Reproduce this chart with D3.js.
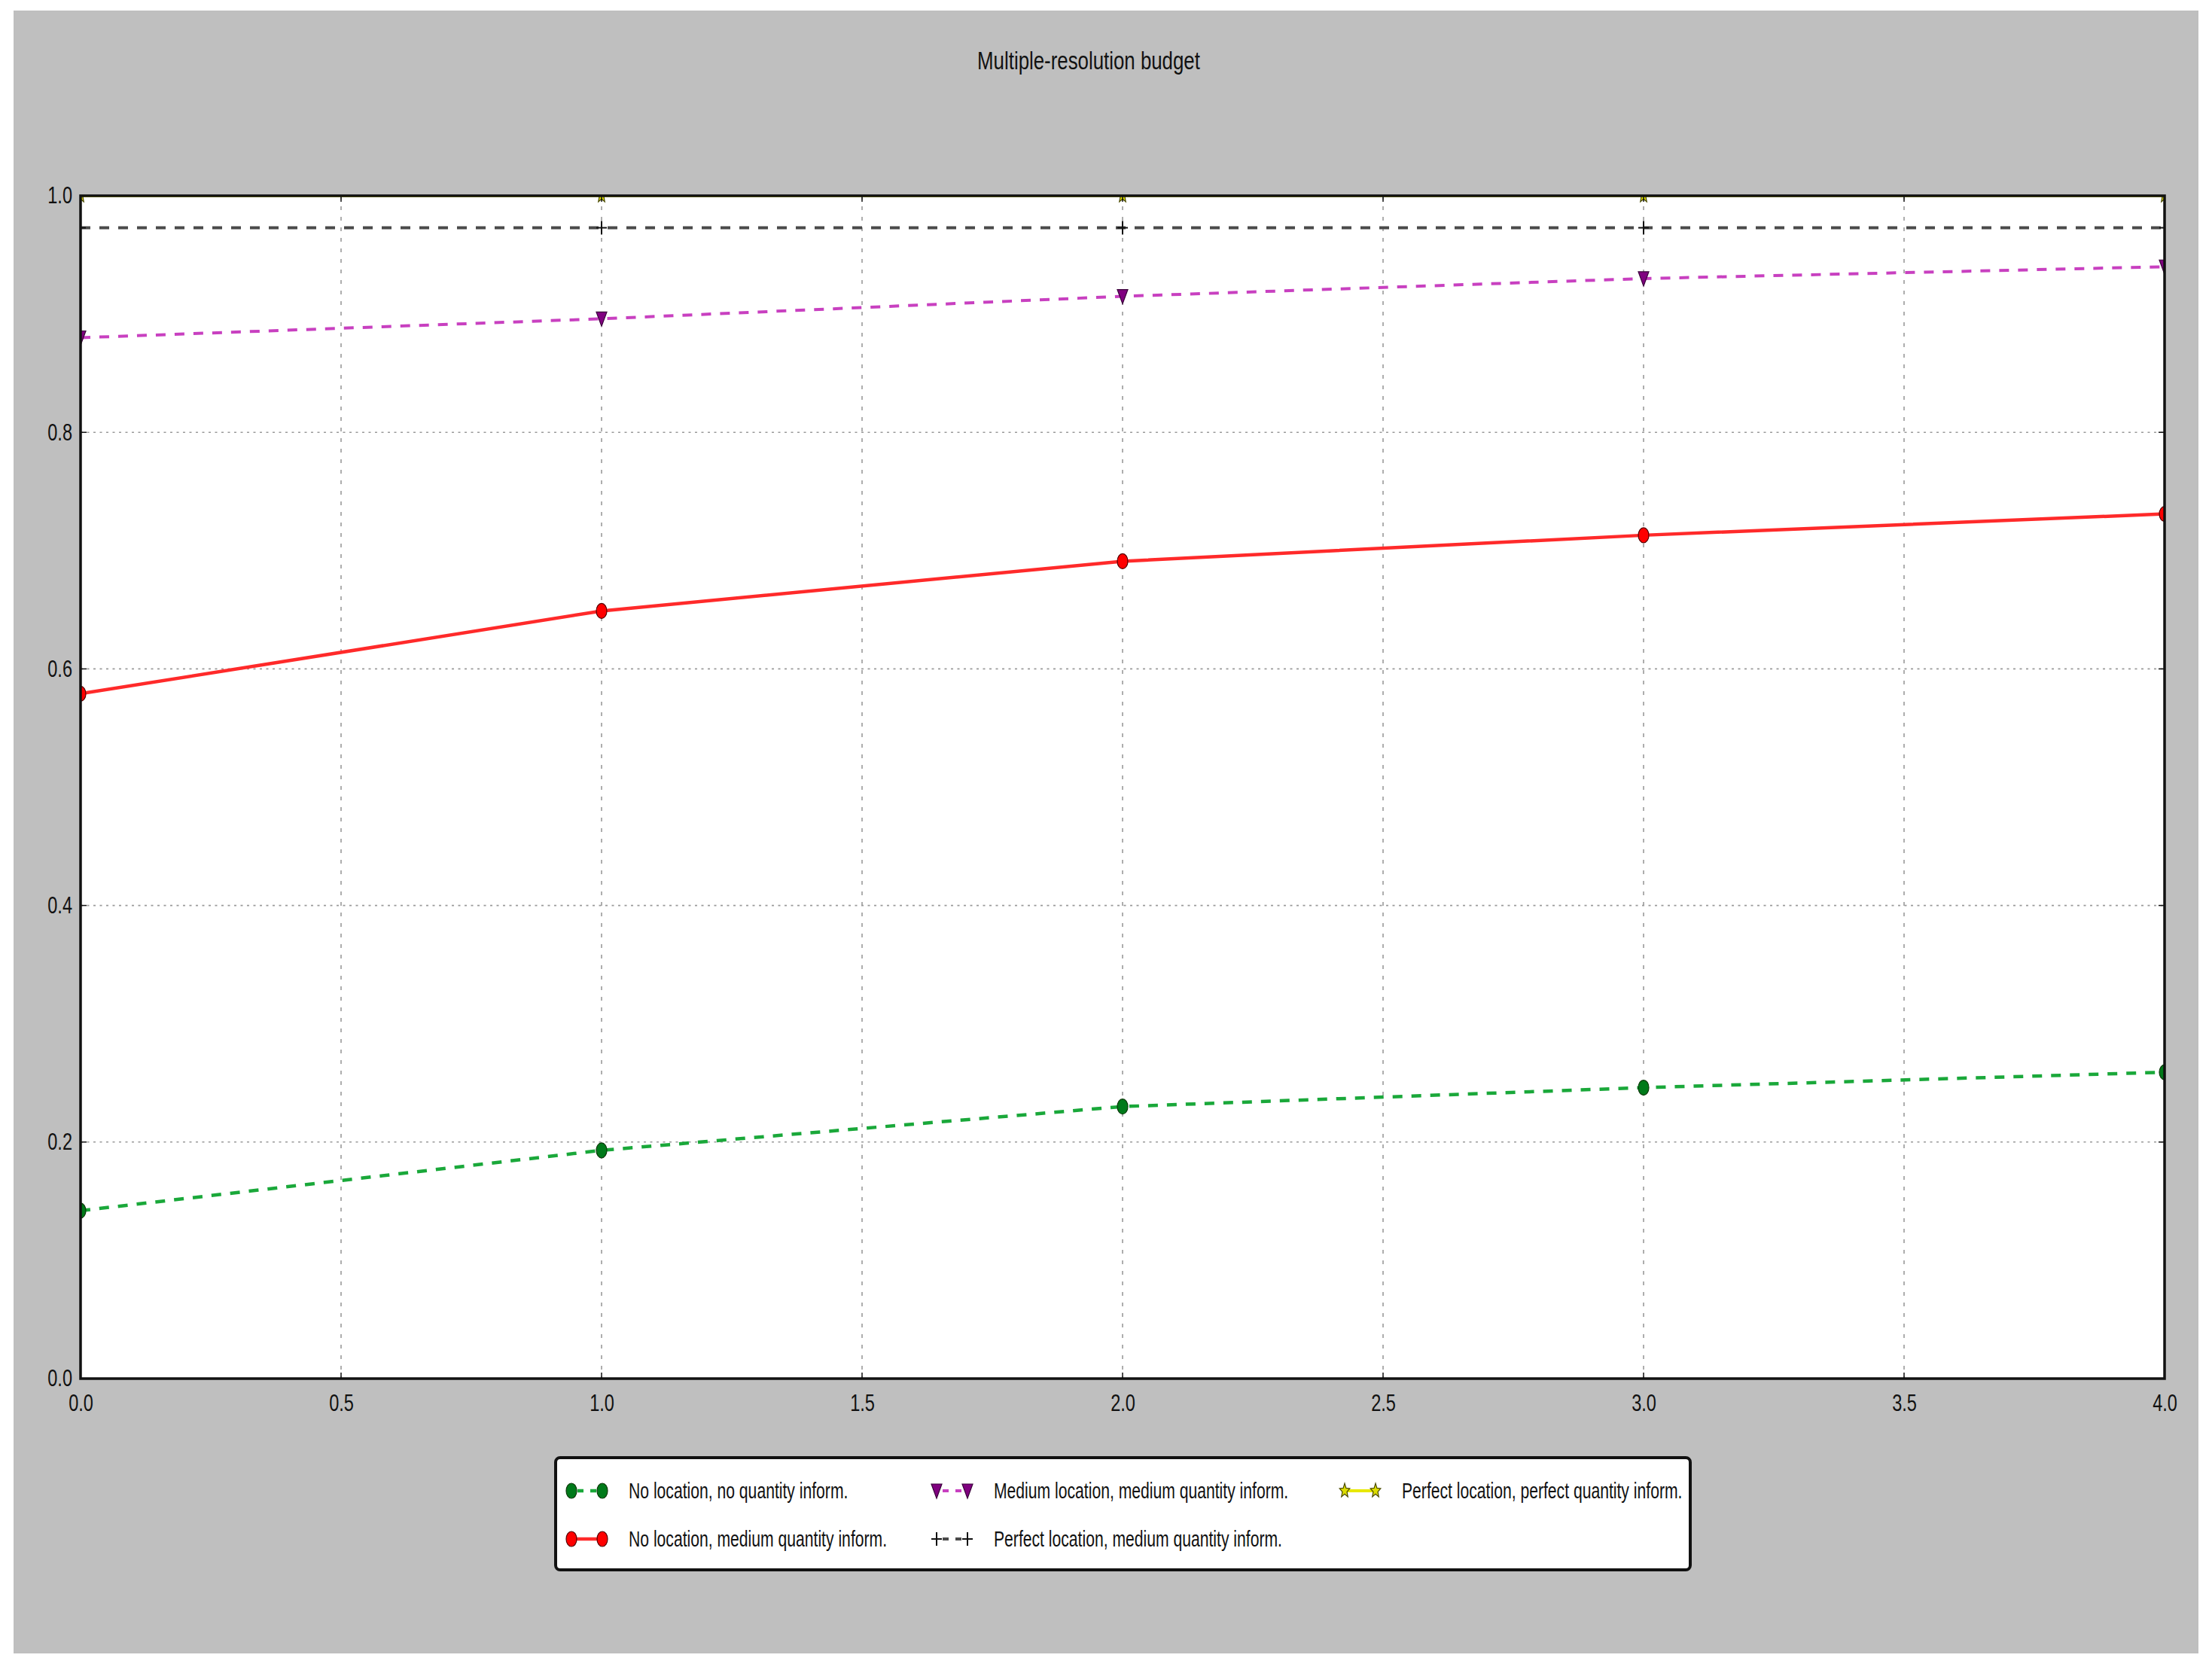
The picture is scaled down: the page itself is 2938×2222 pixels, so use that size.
<!DOCTYPE html>
<html>
<head>
<meta charset="utf-8">
<script src="https://cdn.jsdelivr.net/npm/d3@7"></script>
<style>
  html, body { margin: 0; padding: 0; background: #ffffff; }
  svg { display: block; }
  text { font-family: "Liberation Sans", Arial, sans-serif; fill: #111; }
</style>
</head>
<body>
<script>
// ---------- data ----------
const xValues = [0, 1, 2, 3, 4];
const noLocNoQty = [0.142, 0.193, 0.230, 0.246, 0.259];
const noLocMedQty = [0.579, 0.649, 0.691, 0.713, 0.731];
const medLocMedQty = [0.880, 0.896, 0.915, 0.930, 0.940];
const perfLocMedQty = [0.973, 0.973, 0.973, 0.973, 0.973];
const perfLocPerfQty = [1.0, 1.0, 1.0, 1.0, 1.0];
const seriesNames = [
  "No location, no quantity inform.",
  "No location, medium quantity inform.",
  "Medium location, medium quantity inform.",
  "Perfect location, medium quantity inform.",
  "Perfect location, perfect quantity inform."
];
const xTicks = [0, 0.5, 1, 1.5, 2, 2.5, 3, 3.5, 4];
const yTicks = [0, 0.2, 0.4, 0.6, 0.8, 1.0];
const titleText = "Multiple-resolution budget";

// ---------- layout ----------
const W = 2938, H = 2222;
const SX = 0.76;   // horizontal text compression (title, ticks)
const SXL = 0.705; // legend text compression
const plot = { left: 107, right: 2875, top: 260, bottom: 1831 };

const svg = d3.select("body").append("svg").attr("width", W).attr("height", H);
svg.append("rect").attr("x", 0).attr("y", 0).attr("width", W).attr("height", H).attr("fill", "#ffffff");
svg.append("rect").attr("x", 18).attr("y", 14).attr("width", 2902).attr("height", 2182).attr("fill", "#bfbfbf");

const x = d3.scaleLinear().domain([0, 4]).range([plot.left, plot.right]);
const y = d3.scaleLinear().domain([0, 1]).range([plot.bottom, plot.top]);

svg.append("rect").attr("x", plot.left).attr("y", plot.top)
  .attr("width", plot.right - plot.left).attr("height", plot.bottom - plot.top).attr("fill", "#ffffff");

svg.append("defs").append("clipPath").attr("id", "clip")
  .append("rect").attr("x", plot.left).attr("y", plot.top)
  .attr("width", plot.right - plot.left).attr("height", plot.bottom - plot.top);

// title
svg.append("text").attr("transform", `translate(1446,92) scale(${SX},1)`)
  .attr("text-anchor", "middle").attr("font-size", 34).text(titleText);

// grid
const grid = svg.append("g");
grid.selectAll("line.h").data(yTicks.filter(d => d > 0 && d < 1)).join("line")
  .attr("x1", plot.left).attr("x2", plot.right)
  .attr("y1", d => y(d)).attr("y2", d => y(d))
  .attr("stroke", "#9a9a9a").attr("stroke-width", 1.6).attr("stroke-dasharray", "3,5.5");
grid.selectAll("line.v").data(xTicks.filter(d => d > 0 && d < 4)).join("line")
  .attr("y1", plot.top).attr("y2", plot.bottom)
  .attr("x1", d => x(d)).attr("x2", d => x(d))
  .attr("stroke", "#9a9a9a").attr("stroke-width", 1.6).attr("stroke-dasharray", "5,9");

function markerPath(type) {
  if (type === "tri") return "M-7,-9 L7,-9 L0,10 Z";
  if (type === "plus") return "M-7,0 L7,0 M0,-9 L0,9";
  if (type === "star") {
    const pts = [];
    for (let i = 0; i < 10; i++) {
      const r = i % 2 === 0 ? 9 : 4;
      const a = -Math.PI / 2 + i * Math.PI / 5;
      pts.push([r * Math.cos(a) * 0.8, r * Math.sin(a) * 1.1]);
    }
    return "M" + pts.map(p => p.join(",")).join("L") + "Z";
  }
  return null;
}

const series = [
  { name: seriesNames[0], values: noLocNoQty, line: "#1aa83a", dash: "13,12", width: 4.5, marker: "circle", mfill: "#007a1a", mstroke: "#0a3a0a" },
  { name: seriesNames[1], values: noLocMedQty, line: "#ff2a2a", dash: null, width: 4.5, marker: "circle", mfill: "#ff0000", mstroke: "#550000" },
  { name: seriesNames[2], values: medLocMedQty, line: "#c840c0", dash: "13,12", width: 4, marker: "tri", mfill: "#800080", mstroke: "#3a003a" },
  { name: seriesNames[3], values: perfLocMedQty, line: "#4a4a4a", dash: "13,12", width: 4, marker: "plus", mfill: "none", mstroke: "#111111" },
  { name: seriesNames[4], values: perfLocPerfQty, line: "#e8e800", dash: null, width: 4, marker: "star", mfill: "#dddd00", mstroke: "#4a4a00" }
];

const lineGen = d3.line().x(d => x(d[0])).y(d => y(d[1]));
const plotG = svg.append("g").attr("clip-path", "url(#clip)");

function drawMarker(g, type, cx, cy, fill, stroke) {
  if (type === "circle") {
    g.append("ellipse").attr("cx", cx).attr("cy", cy).attr("rx", 7).attr("ry", 10)
      .attr("fill", fill).attr("stroke", stroke).attr("stroke-width", 1.2);
  } else if (type === "plus") {
    g.append("path").attr("transform", `translate(${cx},${cy})`).attr("d", markerPath(type))
      .attr("fill", "none").attr("stroke", stroke).attr("stroke-width", 2);
  } else {
    g.append("path").attr("transform", `translate(${cx},${cy})`).attr("d", markerPath(type))
      .attr("fill", fill).attr("stroke", stroke).attr("stroke-width", 1.2);
  }
}

series.forEach(s => {
  const pts = xValues.map((xv, i) => [xv, s.values[i]]);
  plotG.append("path").attr("d", lineGen(pts)).attr("fill", "none")
    .attr("stroke", s.line).attr("stroke-width", s.width)
    .attr("stroke-dasharray", s.dash);
  pts.forEach(p => drawMarker(plotG, s.marker, x(p[0]), y(p[1]), s.mfill, s.mstroke));
});

// inward ticks on all sides
const ticks = svg.append("g").attr("stroke", "#111").attr("stroke-width", 1.5);
xTicks.forEach(t => {
  ticks.append("line").attr("x1", x(t)).attr("x2", x(t)).attr("y1", plot.bottom).attr("y2", plot.bottom - 8);
  ticks.append("line").attr("x1", x(t)).attr("x2", x(t)).attr("y1", plot.top).attr("y2", plot.top + 8);
});
yTicks.forEach(t => {
  ticks.append("line").attr("x1", plot.left).attr("x2", plot.left + 8).attr("y1", y(t)).attr("y2", y(t));
  ticks.append("line").attr("x1", plot.right).attr("x2", plot.right - 8).attr("y1", y(t)).attr("y2", y(t));
});

// frame
svg.append("rect").attr("x", plot.left).attr("y", plot.top)
  .attr("width", plot.right - plot.left).attr("height", plot.bottom - plot.top)
  .attr("fill", "none").attr("stroke", "#111").attr("stroke-width", 3.5);

// axes (labels)
const fmt = d3.format(".1f");
const xAxis = svg.append("g").attr("transform", `translate(0,${plot.bottom})`)
  .call(d3.axisBottom(x).tickValues(xTicks).tickFormat(fmt).tickSize(0).tickPadding(21));
xAxis.select(".domain").remove();
xAxis.selectAll("text").attr("font-size", 31).attr("fill", "#111")
  .attr("font-family", "'Liberation Sans', Arial, sans-serif")
  .attr("transform", `scale(${SX},1)`);

const yAxis = svg.append("g").attr("transform", `translate(${plot.left},0)`)
  .call(d3.axisLeft(y).tickValues(yTicks).tickFormat(fmt).tickSize(0).tickPadding(11));
yAxis.select(".domain").remove();
yAxis.selectAll("text").attr("font-size", 31).attr("fill", "#111")
  .attr("font-family", "'Liberation Sans', Arial, sans-serif")
  .attr("x", -11 / SX).attr("transform", `scale(${SX},1)`);

// legend
const legend = svg.append("g");
legend.append("rect").attr("x", 738).attr("y", 1936).attr("width", 1507).attr("height", 149)
  .attr("rx", 6).attr("fill", "#ffffff").attr("stroke", "#111").attr("stroke-width", 4);
const legendPos = [
  { col: 0, row: 0 }, { col: 0, row: 1 }, { col: 1, row: 0 }, { col: 1, row: 1 }, { col: 2, row: 0 }
];
const colX = [759, 1244, 1786];
const rowY = [1980, 2044];
series.forEach((s, i) => {
  const p = legendPos[i];
  const x1 = colX[p.col], x2 = x1 + 41, cy = rowY[p.row];
  legend.append("line").attr("x1", x1).attr("x2", x2).attr("y1", cy).attr("y2", cy)
    .attr("stroke", s.line).attr("stroke-width", s.width)
    .attr("stroke-dasharray", s.dash ? "8,9" : null).attr("stroke-dashoffset", s.dash ? -8 : null);
  drawMarker(legend, s.marker, x1, cy, s.mfill, s.mstroke);
  drawMarker(legend, s.marker, x2, cy, s.mfill, s.mstroke);
  legend.append("text").attr("transform", `translate(${x1 + 76},${cy + 10}) scale(${SXL},1)`)
    .attr("font-size", 30).text(s.name);
});
</script>
</body>
</html>
